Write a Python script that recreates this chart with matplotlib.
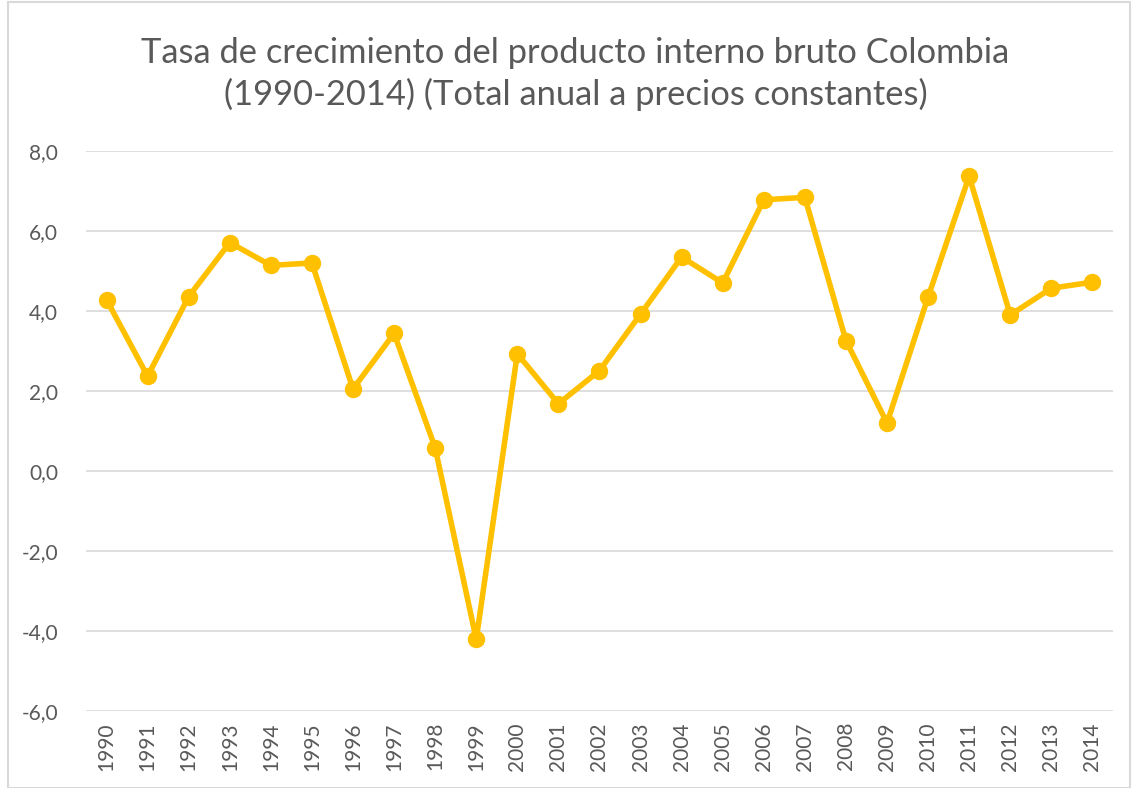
import matplotlib.pyplot as plt
from matplotlib.patches import Rectangle

# datos
years = [str(y) for y in range(1990, 2015)]
growth = [4.28, 2.37, 4.36, 5.71, 5.14, 5.20, 2.05, 3.44, 0.58, -4.21,
          2.93, 1.68, 2.51, 3.92, 5.35, 4.70, 6.78, 6.84, 3.26, 1.20,
          4.35, 7.37, 3.90, 4.57, 4.72]
y_ticks = [-6, -4, -2, 0, 2, 4, 6, 8]

title = ("Tasa de crecimiento del producto interno bruto Colombia\n"
         "(1990-2014) (Total anual a precios constantes)")

plt.rcParams['font.family'] = ['Lato', 'DejaVu Sans']

fig = plt.figure(figsize=(11.33, 7.88), dpi=100)
ax = fig.add_axes([0.0759, 0.0977, 0.9064, 0.7107])

x = list(range(len(years)))
ax.plot(x, growth, color='#FFC000', linewidth=4.0, marker='o',
        markersize=11.5, zorder=3)

ax.set_xlim(-0.5, len(years) - 0.5)
ax.set_ylim(-6, 8)
ax.set_yticks(y_ticks)
ax.set_yticklabels([f"{v:.1f}".replace('.', ',') for v in y_ticks])
ax.set_xticks(x)
ax.set_xticklabels(years, rotation=90)

ax.grid(axis='y', color='#d9d9d9', linewidth=1.2)
ax.set_axisbelow(True)
for s in ax.spines.values():
    s.set_visible(False)
ax.tick_params(axis='both', length=0, colors='#595959', labelsize=15)
ax.tick_params(axis='y', pad=20)
ax.tick_params(axis='x', pad=8)

fig.text(0.508, 0.906, title, ha='center', va='center', fontsize=24.8,
         color='#595959', linespacing=1.33)

# borde del área del gráfico
fig.patches.append(Rectangle((0.007, 0.0), 0.99, 0.998, transform=fig.transFigure,
                             fill=False, edgecolor='#d9d9d9', linewidth=1.5))

fig.savefig('out.png', dpi=100)
